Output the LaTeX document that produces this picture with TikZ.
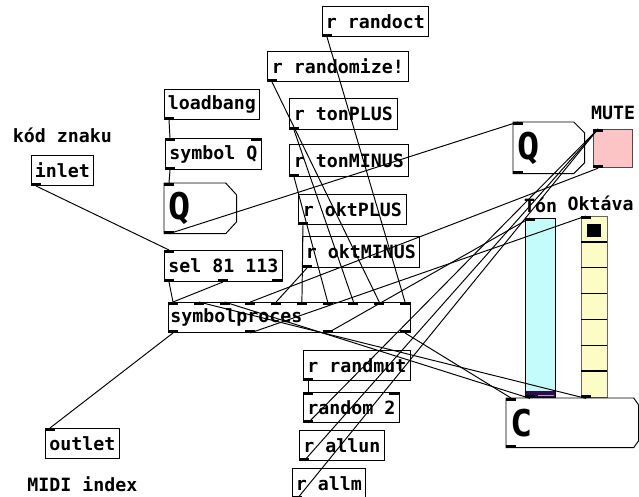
\documentclass[tikz,border=0pt]{standalone}
\usepackage{fontspec}
\setmonofont{DejaVu Sans Mono}
\usetikzlibrary{positioning}
\usetikzlibrary{calc}
\definecolor{pd_cyan}{HTML}{C4FCFC}
\definecolor{pd_yellow}{HTML}{FCFCC4}
\definecolor{pd_pink}{HTML}{FCC4C4}
\definecolor{pd_knob}{HTML}{2E0A4E}

% inlet / outlet marks, with a coordinate for the wires
\newcommand{\pdin}[3]{\fill ($(#1.north west)+(#2,0)$) rectangle ++(10,3);
  \coordinate (#1-i#3) at ($(#1.north west)+(#2+5,0)$);}
\newcommand{\pdout}[3]{\fill ($(#1.south west)+(#2,0)$) rectangle ++(10,-3);
  \coordinate (#1-o#3) at ($(#1.south west)+(#2+5,0)$);}
% symbol atom outline with cut corners
\newcommand{\symshape}[3]{\draw[boxline] (#1.north west) -- ($(#1.north east)+(-#2,0)$)
  -- ($(#1.north east)+(0,#3)$) -- ($(#1.south east)+(0,-#3)$)
  -- ($(#1.south east)+(-#2,0)$) -- (#1.south west) -- cycle;}

\begin{document}
\begin{tikzpicture}[
    x=0.02cm, y=-0.02cm,
    pdfont/.style={font=\ttfamily\bfseries\fontsize{10.4}{12}\selectfont},
    pdbox/.style={draw, line width=0.55pt, anchor=north west, inner xsep=0.04cm, inner ysep=0pt, pdfont},
    pdsize/.style 2 args={minimum width=#1*0.02cm, minimum height=#2*0.02cm},
    comment/.style={pdfont, inner sep=0pt},
    symatom/.style={anchor=north west, inner xsep=0.08cm, inner ysep=0pt, align=left, font=\ttfamily\bfseries\fontsize{21}{24}\selectfont},
    boxline/.style={line width=0.55pt},
    wire/.style={line width=0.55pt},
  ]
  \useasboundingbox[fill=white] (0,0) rectangle (639,497);

  % receivers on top
  \node[pdbox, pdsize={106}{30}] (randoct) at (322,6) {r randoct};
  \node[pdbox, pdsize={141}{30}] (randomize) at (267,51) {r randomize!};
  \node[pdbox, pdsize={108}{31}] (tonplus) at (289,98) {r tonPLUS};
  \node[pdbox, pdsize={119}{32}] (tonminus) at (289,144) {r tonMINUS};
  \node[pdbox, pdsize={108}{30}] (oktplus) at (298,194) {r oktPLUS};
  \node[pdbox, pdsize={117}{31}] (oktminus) at (302,236) {r oktMINUS};

  % left column
  \node[pdbox, pdsize={95}{30}] (loadbang) at (164,89) {loadbang};
  \node[pdbox, pdsize={96}{31}] (symbolq) at (165,138) {symbol Q};
  \node[symatom, text width=1.28cm, minimum height=1cm] (qleft) at (164,183) {Q};
  \symshape{qleft}{11}{12}
  \node[pdbox, pdsize={62}{30}] (inletobj) at (31,155) {inlet};
  \node[comment, above=0.24cm of inletobj] (kodznaku) {kód znaku};
  \node[pdbox, pdsize={118}{31}] (sel) at (164,250) {sel 81 113};
  \node[pdbox, text width=4.76cm, align=left, minimum height=0.6cm] (symproc) at (168,302) {symbolproces};
  \node[pdbox, pdsize={74}{30}] (outletobj) at (45,428) {outlet};
  \node[comment, below=0.34cm of outletobj] (midilabel) {MIDI index};

  % receivers below
  \node[pdbox, pdsize={107}{30}] (randmut) at (303,350) {r randmut};
  \node[pdbox, pdsize={96}{30}] (random2) at (303,392) {random 2};
  \node[pdbox, pdsize={85}{30}] (allun) at (299,430) {r allun};
  \node[pdbox, pdsize={73}{30}] (allm) at (292,468) {r allm};

  % GUI on the right
  \node[symatom, text width=1.26cm, minimum height=1.02cm] (qright) at (513,122) {Q};
  \symshape{qright}{11}{11}
  \node[draw=black!70, fill=pd_pink, anchor=north west, inner sep=0pt, pdsize={39}{38}, line width=0.7pt] (mute) at (593,129) {};
  \node[comment, above=0.18cm of mute] (mutelabel) {MUTE};
  \node[draw, fill=pd_cyan, anchor=north west, inner sep=0pt, pdsize={30}{179}, line width=0.8pt] (ton) at (525,218) {};
  \fill[pd_knob] ($(ton.south west)+(1,-7)$) rectangle ($(ton.south east)+(-1,-1)$);
  \draw[black!35, line width=0.4pt] ($(ton.south west)+(13,-3)$) -- ($(ton.south east)+(-2,-3)$);
  \node[comment, above=0.1cm of ton] (tonlabel) {Tón};
  \node[draw=black!60, fill=pd_yellow, anchor=north west, inner sep=0pt, pdsize={26}{181}, line width=0.8pt] (okt) at (581,216) {};
  \foreach \i in {1,...,6}
    \draw[line width=0.8pt] ($(okt.north west)+(0,\i*25.86)$) -- ++(26,0);
  \fill ($(okt.north west)+(6,8)$) rectangle ++(14,13);
  \node[comment, above=0.1cm of okt, xshift=0.12cm] (oktlabel) {Oktáva};
  \node[symatom, text width=2.48cm, minimum height=0.98cm] (catom) at (506,398) {C};
  \symshape{catom}{5}{7}

  % inlets and outlets
  \pdout{loadbang}{0}{0}
  \pdin{symbolq}{0}{0} \pdin{symbolq}{86}{1} \pdout{symbolq}{0}{0}
  \pdin{qleft}{0}{0} \pdout{qleft}{0}{0}
  \pdout{inletobj}{0}{0}
  \pdin{sel}{0}{0} \pdout{sel}{0}{0} \pdout{sel}{54}{1} \pdout{sel}{108}{2}
  \foreach \obj in {randoct,randomize,tonplus,tonminus,oktplus,oktminus,randmut,allun,allm}
    {\pdout{\obj}{0}{0}}
  \foreach \i in {0,...,9} {\pdin{symproc}{\i*25.78}{\i}}
  \foreach \i in {0,...,3} {\pdout{symproc}{\i*77.33}{\i}}
  \pdin{random2}{0}{0} \pdin{random2}{86}{1} \pdout{random2}{0}{0}
  \pdin{outletobj}{0}{0}
  \pdin{qright}{0}{0} \pdout{qright}{0}{0}
  \pdin{catom}{0}{0} \pdout{catom}{0}{0}
  \pdin{mute}{0}{0} \pdout{mute}{0}{0}
  \pdin{ton}{0}{0} \pdout{ton}{0}{0}
  \pdin{okt}{0}{0} \pdout{okt}{0}{0}

  % wires
  \draw[wire] (loadbang-o0) -- (symbolq-i0);
  \draw[wire] (symbolq-o0) -- (qleft-i0);
  \draw[wire] (inletobj-o0) -- (sel-i0);
  \draw[wire] (sel-o0) -- (symproc-i0);
  \draw[wire] (sel-o1) -- (symproc-i0);
  \draw[wire] (qleft-o0) -- (qright-i0);
  \draw[wire] (okt-o0) -- (symproc-i1);
  \draw[wire] (ton-o0) -- (symproc-i2);
  \draw[wire] (mute-o0) -- (symproc-i3);
  \draw[wire] (oktminus-o0) -- (symproc-i4);
  \draw[wire] (oktplus-o0) -- (symproc-i5);
  \draw[wire] (tonminus-o0) -- (symproc-i6);
  \draw[wire] (tonplus-o0) -- (symproc-i7);
  \draw[wire] (randomize-o0) -- (symproc-i8);
  \draw[wire] (randoct-o0) -- (symproc-i9);
  \draw[wire] (symproc-o0) -- (outletobj-i0);
  \draw[wire] (symproc-o1) -- (okt-i0);
  \draw[wire] (symproc-o2) -- (ton-i0);
  \draw[wire] (symproc-o3) -- (catom-i0);
  \draw[wire] (randmut-o0) -- (random2-i0);
  \draw[wire] (random2-o0) -- (mute-i0);
  \draw[wire] (allun-o0) -- (mute-i0);
  \draw[wire] (allm-o0) -- (mute-i0);
\end{tikzpicture}
\end{document}
